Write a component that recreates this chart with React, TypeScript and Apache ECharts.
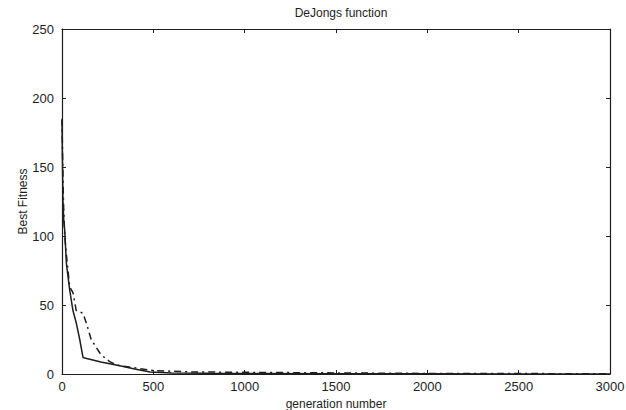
import React, { useEffect, useRef } from "react";
import * as echarts from "echarts";

const xTicks = [0, 500, 1000, 1500, 2000, 2500, 3000];
const yTicks = [0, 50, 100, 150, 200, 250];

const gensSolid = [0, 2, 5, 10, 15, 24, 42, 60, 78, 97, 115, 124, 213, 323, 398, 482, 600, 800, 1000, 1500, 2000, 3000];
const fitSolid = [184, 160, 126, 110, 104, 80, 61, 46, 37, 25, 12, 11.6, 8.7, 5.8, 3.6, 1.5, 0.8, 0.5, 0.3, 0.2, 0.1, 0.05];

const gensDash = [0, 3, 8, 15, 25, 33, 42, 60, 78, 115, 133, 160, 213, 261, 297, 370, 500, 700, 1000, 1500, 2000, 3000];
const fitDash = [185, 160, 125, 100, 85, 75, 63, 59, 46, 44, 37, 25, 14, 9, 6.5, 5, 2.5, 1.5, 1.2, 0.8, 0.4, 0.2];

const pairs = (xs: number[], ys: number[]) => xs.map((x, i) => [x, ys[i]]);

export default function App() {
  const ref = useRef<HTMLDivElement>(null);
  useEffect(() => {
    if (!ref.current) return;
    const chart = echarts.init(ref.current, null, { renderer: "svg" });
    const ink = "#1e1e1e";
    const font = "Liberation Sans, Arial, sans-serif";
    const axisCommon = {
      axisLine: { show: true, onZero: false, lineStyle: { color: ink, width: 1.2 } },
      axisTick: { show: true, inside: true, length: 4, lineStyle: { color: ink } },
      splitLine: { show: false },
    };
    chart.setOption({
      animation: false,
      backgroundColor: "#ffffff",
      title: {
        text: "DeJongs function",
        left: 336,
        top: 2,
        textAlign: "center",
        textStyle: { fontSize: 12, fontWeight: "normal", color: ink, fontFamily: font },
      },
      grid: { left: 62, right: 16, top: 29, bottom: 36, containLabel: false, outerBoundsMode: "none" },
      xAxis: [
        {
          type: "value",
          min: xTicks[0],
          max: xTicks[xTicks.length - 1],
          interval: 500,
          position: "bottom",
          name: "generation number",
          nameLocation: "middle",
          nameGap: 20,
          nameTextStyle: { fontSize: 12, color: ink, fontFamily: font },
          axisLabel: { fontSize: 13, color: ink, fontFamily: font, margin: 6, formatter: (v: number) => String(v) },
          ...axisCommon,
        },
        {
          type: "value",
          min: xTicks[0],
          max: xTicks[xTicks.length - 1],
          interval: 500,
          position: "top",
          axisLabel: { show: false },
          ...axisCommon,
        },
      ],
      yAxis: [
        {
          type: "value",
          min: yTicks[0],
          max: yTicks[yTicks.length - 1],
          interval: 50,
          position: "left",
          name: "Best Fitness",
          nameLocation: "middle",
          nameGap: 33,
          nameMoveOverlap: false,
          nameTextStyle: { fontSize: 12, color: ink, fontFamily: font },
          axisLabel: { fontSize: 13, color: ink, fontFamily: font, margin: 8, formatter: (v: number) => String(v) },
          ...axisCommon,
        },
        {
          type: "value",
          min: yTicks[0],
          max: yTicks[yTicks.length - 1],
          interval: 50,
          position: "right",
          axisLabel: { show: false },
          ...axisCommon,
        },
      ],
      series: [
        {
          name: "solid",
          type: "line",
          data: pairs(gensSolid, fitSolid),
          showSymbol: false,
          symbol: "none",
          lineStyle: { color: ink, width: 1.5, type: "solid" },
        },
        {
          name: "dashdot",
          type: "line",
          data: pairs(gensDash, fitDash),
          showSymbol: false,
          symbol: "none",
          lineStyle: { color: ink, width: 1.5, type: [7, 4, 2, 4] },
        },
      ],
    });
    return () => chart.dispose();
  }, []);
  return (
    <div
      ref={ref}
      style={{ position: "absolute", left: 0, top: 0, width: 626, height: 410, background: "#fff" }}
    />
  );
}
